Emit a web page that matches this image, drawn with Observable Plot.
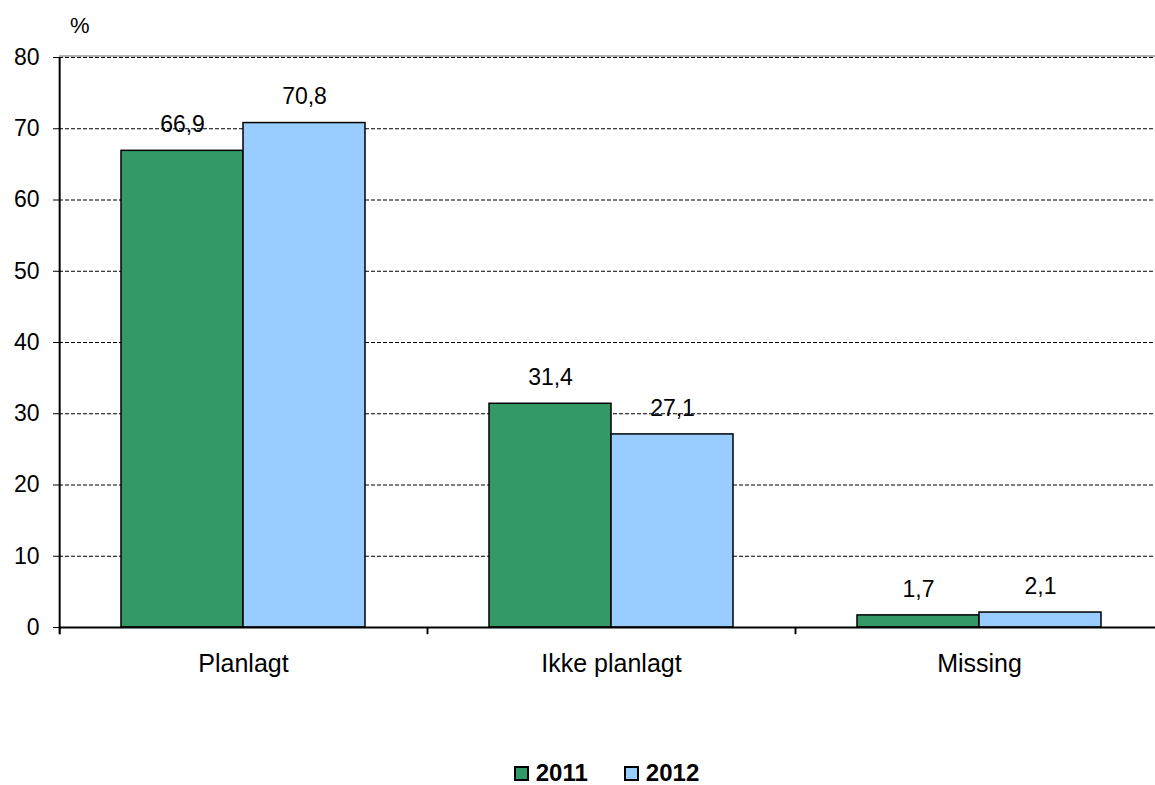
<!DOCTYPE html>
<html>
<head>
<meta charset="utf-8">
<script src="https://cdn.jsdelivr.net/npm/d3@7"></script>
<script src="https://cdn.jsdelivr.net/npm/@observablehq/plot@0.6"></script>
<style>
  body { margin: 0; background: #fff; font-family: "Liberation Sans", Arial, sans-serif; }
  #wrap { position: relative; width: 1155px; }
  #unit { position: absolute; left: 70px; top: 13px; font-size: 22px; }
  #legend { display: flex; justify-content: center; gap: 36px; margin-top: 24px; font-weight: bold; font-size: 24px; line-height: 28px; padding-left: 58px; }
  .item { display: flex; align-items: center; gap: 7px; }
  .sw { width: 11px; height: 11px; border: 2px solid #000; box-sizing: content-box; }
</style>
</head>
<body>
<div id="wrap">
  <div id="unit">%</div>
  <div id="chart"></div>
  <div id="legend"></div>
</div>
<script>
const categories = ["Planlagt", "Ikke planlagt", "Missing"];
const years = ["2011", "2012"];
const values2011 = [66.9, 31.4, 1.7];
const values2012 = [70.8, 27.1, 2.1];
const yTicks = [0, 10, 20, 30, 40, 50, 60, 70, 80];
const colors = ["#339966", "#99ccff"];

const data = categories.flatMap((c, i) => [
  {cat: c, year: "2011", value: values2011[i]},
  {cat: c, year: "2012", value: values2012[i]}
]);
const fmt = v => v.toFixed(1).replace(".", ",");

const W = 1155, ML = 58, MR = -8.5;
const step = (W - ML - MR) / categories.length / 3;

const chart = Plot.plot({
  width: W, height: 735,
  marginLeft: ML, marginRight: MR, marginTop: 57, marginBottom: 108,
  style: {fontFamily: "'Liberation Sans', Arial, sans-serif", fontSize: "23px", color: "#000", background: "#fff", overflow: "visible"},
  fx: {domain: categories, padding: 0, label: null, axis: null},
  x: {domain: years, paddingInner: 0, paddingOuter: 0.5, axis: null},
  y: {domain: [0, 80], axis: null},
  color: {domain: years, range: colors},
  marks: [
    Plot.ruleY([80], {stroke: "#999", strokeWidth: 1.5, dy: -1.5}),
    Plot.ruleY(yTicks.filter(d => d > 0), {stroke: "#000", strokeWidth: 1, strokeDasharray: "4,2"}),
    Plot.barY(data, {fx: "cat", x: "year", y: "value", fill: "year", stroke: "#000", strokeWidth: 1.5}),
    Plot.ruleY([0], {stroke: "#000", strokeWidth: 2}),
    Plot.ruleX(categories, {fx: d => d, x: () => "2011", dx: -step, y1: 0, y2: -1, stroke: "#000", strokeWidth: 1.5}),
    Plot.ruleX(categories, {fx: d => d, x: () => "2012", dx: step, y1: 0, y2: -1, stroke: "#000", strokeWidth: 1.5}),
    Plot.ruleX([categories[0]], {fx: d => d, x: () => "2011", dx: -step, y1: -1, y2: 80, stroke: "#000", strokeWidth: 2}),
    Plot.text(data, {fx: "cat", x: "year", y: "value", text: d => fmt(d.value), dy: -26, fontSize: 23, fill: "#000"}),
    Plot.axisY({ticks: yTicks, tickSize: 6, tickPadding: 14, fontSize: 23, label: null, tickFormat: d => d}),
    Plot.axisFx({anchor: "bottom", tickSize: 0, tickPadding: 27, fontSize: 25, label: null})
  ]
});
document.getElementById("chart").appendChild(chart);

const legend = document.getElementById("legend");
years.forEach((y, i) => {
  const item = document.createElement("div");
  item.className = "item";
  const sw = document.createElement("span");
  sw.className = "sw";
  sw.style.background = colors[i];
  const t = document.createElement("span");
  t.textContent = y;
  item.appendChild(sw);
  item.appendChild(t);
  legend.appendChild(item);
});
</script>
</body>
</html>
